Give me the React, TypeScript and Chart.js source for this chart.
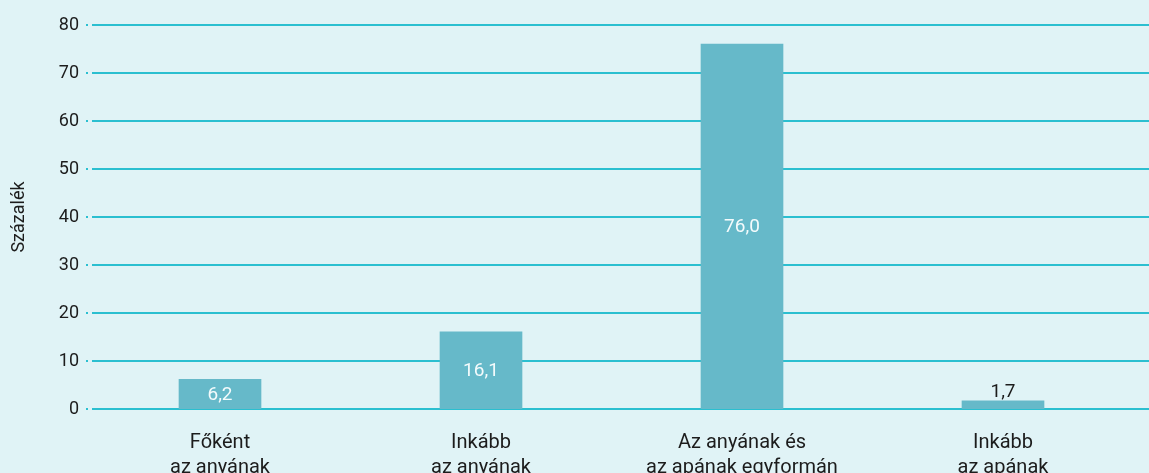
import React, { useEffect, useRef } from "react";
import { Chart, registerables } from "chart.js";

Chart.register(...registerables);

const categories: string[][] = [
  ["Főként", "az anyának"],
  ["Inkább", "az anyának"],
  ["Az anyának és", "az apának egyformán"],
  ["Inkább", "az apának"],
];
const values: number[] = [6.2, 16.1, 76.0, 1.7];
const yTicks: number[] = [0, 10, 20, 30, 40, 50, 60, 70, 80];
const yTitle = "Százalék";

const BG = "#e0f3f6";
const GRID = "#2bbfd0";
const BAR = "#66b9c9";
const TEXT = "#1c1c1c";
const FONT = "Roboto, 'DejaVu Sans', sans-serif";

const gridPlugin = {
  id: "customGrid",
  beforeDatasetsDraw(chart: any) {
    const { ctx, chartArea, scales } = chart;
    const y = scales.y;
    ctx.save();
    ctx.fillStyle = GRID;
    for (const v of yTicks) {
      const py = Math.round(y.getPixelForValue(v));
      ctx.fillRect(Math.round(chartArea.left - 3.5), py - 1, 2, 2);
      ctx.fillRect(Math.round(chartArea.left + 2), py - 1, chart.width - chartArea.left, 2);
    }
    ctx.restore();
  },
};

const labelPlugin = {
  id: "valueLabels",
  afterDatasetsDraw(chart: any) {
    const { ctx } = chart;
    const meta = chart.getDatasetMeta(0);
    ctx.save();
    ctx.font = `19px ${FONT}`;
    ctx.textAlign = "center";
    meta.data.forEach((el: any, i: number) => {
      const v = values[i];
      const txt = v.toFixed(1).replace(".", ",");
      const h = el.base - el.y;
      if (h > 22) {
        ctx.fillStyle = "#f4fbfc";
        ctx.textBaseline = "middle";
        ctx.fillText(txt, el.x, (el.y + el.base) / 2 + 1);
      } else {
        ctx.fillStyle = TEXT;
        ctx.textBaseline = "alphabetic";
        ctx.fillText(txt, el.x, el.y - 4);
      }
    });
    ctx.restore();
  },
};

export default function App() {
  const ref = useRef<HTMLCanvasElement | null>(null);

  useEffect(() => {
    document.body.style.margin = "0";
    document.body.style.background = BG;
    if (!ref.current) return;
    const chart = new Chart(ref.current, {
      type: "bar",
      data: {
        labels: categories,
        datasets: [
          {
            data: values,
            backgroundColor: BAR,
            borderWidth: 0,
            barThickness: 82,
          },
        ],
      },
      options: {
        animation: false,
        responsive: false,
        maintainAspectRatio: false,
        layout: { padding: { top: 25, right: 15.5, left: 0, bottom: 0 } },
        plugins: {
          legend: { display: false },
          tooltip: { enabled: false },
        },
        scales: {
          x: {
            grid: { display: false, drawTicks: false },
            border: { display: false },
            ticks: {
              color: TEXT,
              font: { family: FONT, size: 20, lineHeight: 1.25 },
              padding: 21,
              maxRotation: 0,
              autoSkip: false,
            },
            afterFit: (s: any) => {
              s.height = 64;
            },
          },
          y: {
            min: 0,
            max: 80,
            grid: { display: false, drawTicks: false },
            border: { display: false },
            ticks: {
              stepSize: 10,
              color: TEXT,
              font: { family: FONT, size: 18 },
              padding: 10.5,
            },
            title: {
              display: true,
              text: yTitle,
              color: TEXT,
              font: { family: FONT, size: 18 },
              padding: { top: 9, bottom: 0 },
            },
            afterFit: (s: any) => {
              s.width = 89.5;
            },
          },
        },
      },
      plugins: [gridPlugin, labelPlugin],
    });
    return () => chart.destroy();
  }, []);

  return (
    <div style={{ width: 1149, height: 473, background: BG }}>
      <canvas ref={ref} width={1149} height={473} style={{ display: "block" }} />
    </div>
  );
}
